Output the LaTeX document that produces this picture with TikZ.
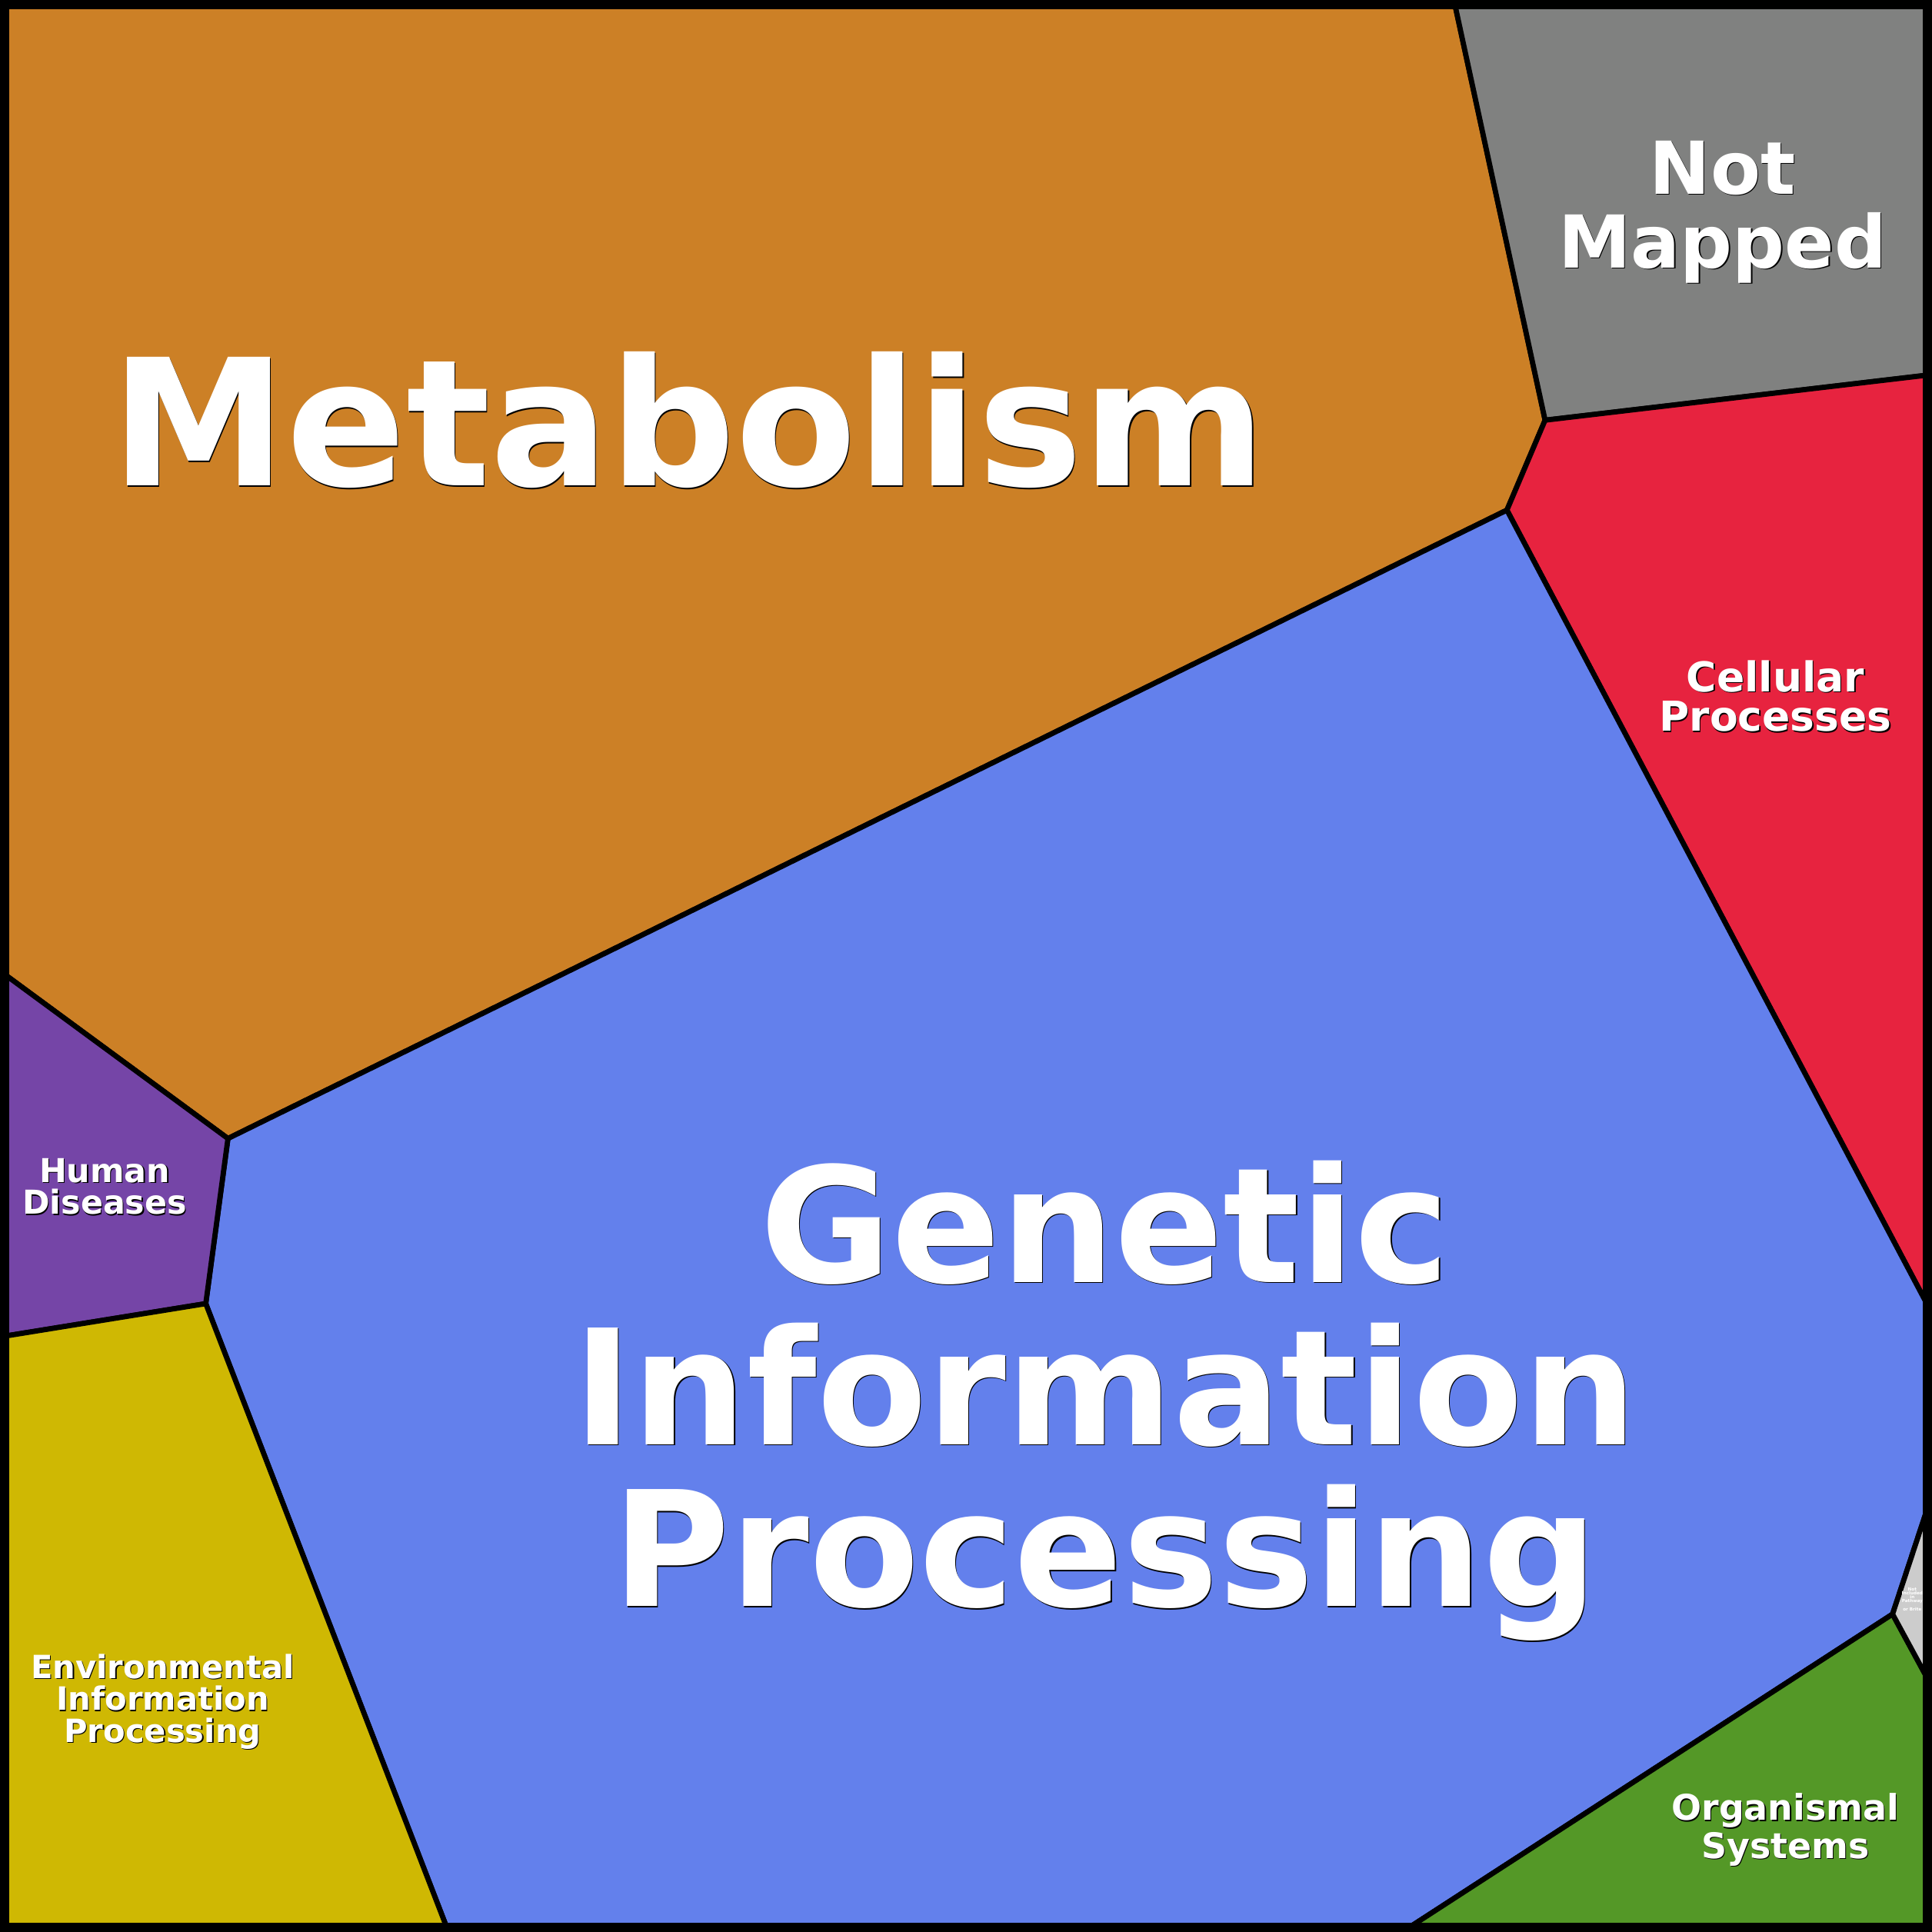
\documentclass[tikz,border=0pt]{standalone}
\usepackage{fontspec}
\setmainfont{DejaVu Sans}

\definecolor{metabcol}{RGB}{204,128,38}
\definecolor{unmapcol}{RGB}{128,129,128}
\definecolor{cellcol}{RGB}{231,35,63}
\definecolor{geneticcol}{RGB}{99,128,236}
\definecolor{diseasecol}{RGB}{117,69,167}
\definecolor{envcol}{RGB}{207,184,3}
\definecolor{organcol}{RGB}{84,152,39}
\definecolor{briteol}{RGB}{204,204,204}

\tikzset{
  cellpoly/.style={draw=black, line width=0.042cm, line join=round},
  lbl/.style={text=white, align=center, inner sep=0pt},
  lblshadow/.style={lbl, text=black, xshift=0.008cm, yshift=-0.008cm},
  hugefont/.style={font=\fontsize{40.7}{40.7}\selectfont\bfseries},
  bigfont/.style={font=\fontsize{37.0}{37.4}\selectfont\bfseries},
  midfont/.style={font=\fontsize{16.85}{17.1}\selectfont\bfseries},
  smallfont/.style={font=\fontsize{9.5}{9.1}\selectfont\bfseries},
  tinyfont/.style={font=\fontsize{7.6}{7.4}\selectfont\bfseries},
  envfont/.style={font=\fontsize{7.4}{7.4}\selectfont\bfseries},
  organfont/.style={font=\fontsize{8.15}{7.8}\selectfont\bfseries},
  microfont/.style={font=\fontsize{1}{0.9}\selectfont\bfseries}
}

\begin{document}
\begin{tikzpicture}[x=0.01cm, y=-0.01cm]

  \useasboundingbox (0,0) rectangle (1568,1568);

  % corners of the cells
  \coordinate (A) at (1180,0);
  \coordinate (B) at (1254,341);
  \coordinate (C) at (1568,304);
  \coordinate (D) at (1223,414);
  \coordinate (E) at (185,924);
  \coordinate (F) at (0,788);
  \coordinate (G) at (167,1058);
  \coordinate (H) at (0,1085);
  \coordinate (I) at (364,1568);
  \coordinate (J) at (1568,1066);
  \coordinate (K) at (1568,1213);
  \coordinate (L) at (1536,1310);
  \coordinate (M) at (1568,1369);
  \coordinate (N) at (1138,1568);

  % the cells
  \draw[cellpoly, fill=metabcol] (0,0) -- (A) -- (B) -- (D) -- (E) -- (F) -- cycle;
  \draw[cellpoly, fill=unmapcol] (A) -- (1568,0) -- (C) -- (B) -- cycle;
  \draw[cellpoly, fill=cellcol] (B) -- (C) -- (J) -- (D) -- cycle;
  \draw[cellpoly, fill=geneticcol] (D) -- (J) -- (K) -- (L) -- (N) -- (I) -- (G) -- (E) -- cycle;
  \draw[cellpoly, fill=diseasecol] (F) -- (E) -- (G) -- (H) -- cycle;
  \draw[cellpoly, fill=envcol] (H) -- (G) -- (I) -- (0,1568) -- cycle;
  \draw[cellpoly, fill=organcol] (L) -- (M) -- (1568,1568) -- (N) -- cycle;
  \draw[cellpoly, fill=briteol] (K) -- (L) -- (M) -- cycle;

  % labels
  \node[lblshadow, hugefont] at (559,341) {Metabolism};
  \node[lbl, hugefont] (metab) at (559,341) {Metabolism};

  \node[lblshadow, bigfont] at (897,1137) {Genetic\\Information\\Processing};
  \node[lbl, bigfont] (genetic) at (897,1137) {Genetic\\Information\\Processing};

  \node[lblshadow, midfont] at (1398,172) {Not\\Mapped};
  \node[lbl, midfont] (unmap) at (1398,172) {Not\\Mapped};

  \node[lblshadow, smallfont] at (1441,565) {Cellular\\Processes};
  \node[lbl, smallfont] (cellular) at (1441,565) {Cellular\\Processes};

  \node[lblshadow, tinyfont] at (85,963) {Human\\Diseases};
  \node[lbl, tinyfont] (disease) at (85,963) {Human\\Diseases};

  \node[lblshadow, envfont] at (132,1381) {Environmental\\Information\\Processing};
  \node[lbl, envfont] (env) at (132,1381) {Environmental\\Information\\Processing};

  \node[lblshadow, organfont] at (1449,1485) {Organismal\\Systems};
  \node[lbl, organfont] (organ) at (1449,1485) {Organismal\\Systems};

  \node[lbl, microfont] (brite) at (1552,1298) {Not\\Included\\in\\Pathway\\or Brite};

  % outer frame
  \draw[line width=0.146cm] (0,0) rectangle (1568,1568);

\end{tikzpicture}
\end{document}
